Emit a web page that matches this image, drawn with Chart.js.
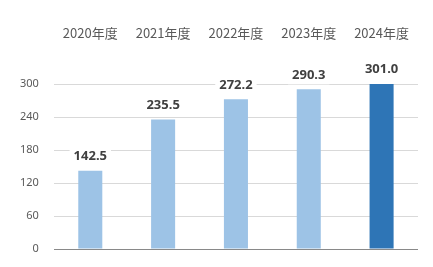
<!DOCTYPE html>
<html>
<head>
<meta charset="utf-8">
<script src="https://cdn.jsdelivr.net/npm/chart.js@4"></script>
<style>
  html, body { margin: 0; padding: 0; background: #fff; }
  #wrap { width: 433px; height: 267px; }
</style>
</head>
<body>
<div id="wrap"><canvas id="chart"></canvas></div>
<script>
// 年度別データ
const categories = ['2020年度', '2021年度', '2022年度', '2023年度', '2024年度'];
const values = [142.5, 235.5, 272.2, 290.3, 301.0];
const barColors = ['#9DC3E6', '#9DC3E6', '#9DC3E6', '#9DC3E6', '#2E75B6'];
const yTicks = [0, 60, 120, 180, 240, 300];

// 棒の上に値ラベルを描く
const valueLabels = {
    id: 'valueLabels',
    afterDatasetsDraw(chart) {
        const ctx = chart.ctx;
        const meta = chart.getDatasetMeta(0);
        ctx.save();
        ctx.font = 'bold 13px "Noto Sans", sans-serif';
        ctx.textAlign = 'center';
        ctx.textBaseline = 'middle';
        meta.data.forEach(function(bar, i) {
            const text = values[i].toFixed(1);
            const w = ctx.measureText(text).width + 8;
            const y = bar.y - 14;
            ctx.fillStyle = '#ffffff';
            ctx.fillRect(bar.x - w / 2, y - 9, w, 18);
            ctx.fillStyle = '#404040';
            ctx.fillText(text, bar.x, y);
        });
        ctx.restore();
    }
};

new Chart(document.getElementById('chart').getContext('2d'), {
    type: 'bar',
    data: {
        labels: categories,
        datasets: [{
            data: values,
            backgroundColor: barColors,
            categoryPercentage: 1,
            barPercentage: 0.33
        }]
    },
    options: {
        responsive: true,
        maintainAspectRatio: false,
        animation: false,
        layout: { padding: { top: 0, left: 5, right: 15, bottom: 18 } },
        plugins: {
            legend: { display: false },
            tooltip: { enabled: false }
        },
        scales: {
            x: {
                position: 'top',
                grid: { display: false, drawTicks: false },
                border: { display: false },
                afterFit(axis) {
                    axis.height = 84;
                    axis.paddingLeft = 0;
                    axis.paddingRight = 0;
                },
                ticks: {
                    color: '#595959',
                    font: { family: '"Noto Sans CJK JP", sans-serif', size: 13 },
                    padding: 43
                }
            },
            y: {
                min: 0,
                max: 300,
                afterBuildTicks(axis) {
                    axis.ticks = yTicks.map(v => ({ value: v }));
                },
                afterFit(axis) {
                    axis.paddingTop = 0;
                    axis.paddingBottom = 0;
                },
                grid: {
                    drawTicks: false,
                    color: ctx => ctx.tick && ctx.tick.value === 0 ? '#898989' : '#D9D9D9',
                    lineWidth: 1
                },
                border: { display: false },
                ticks: {
                    color: '#595959',
                    font: { family: '"Noto Sans", sans-serif', size: 11 },
                    padding: 15
                }
            }
        }
    },
    plugins: [valueLabels]
});
</script>
</body>
</html>
